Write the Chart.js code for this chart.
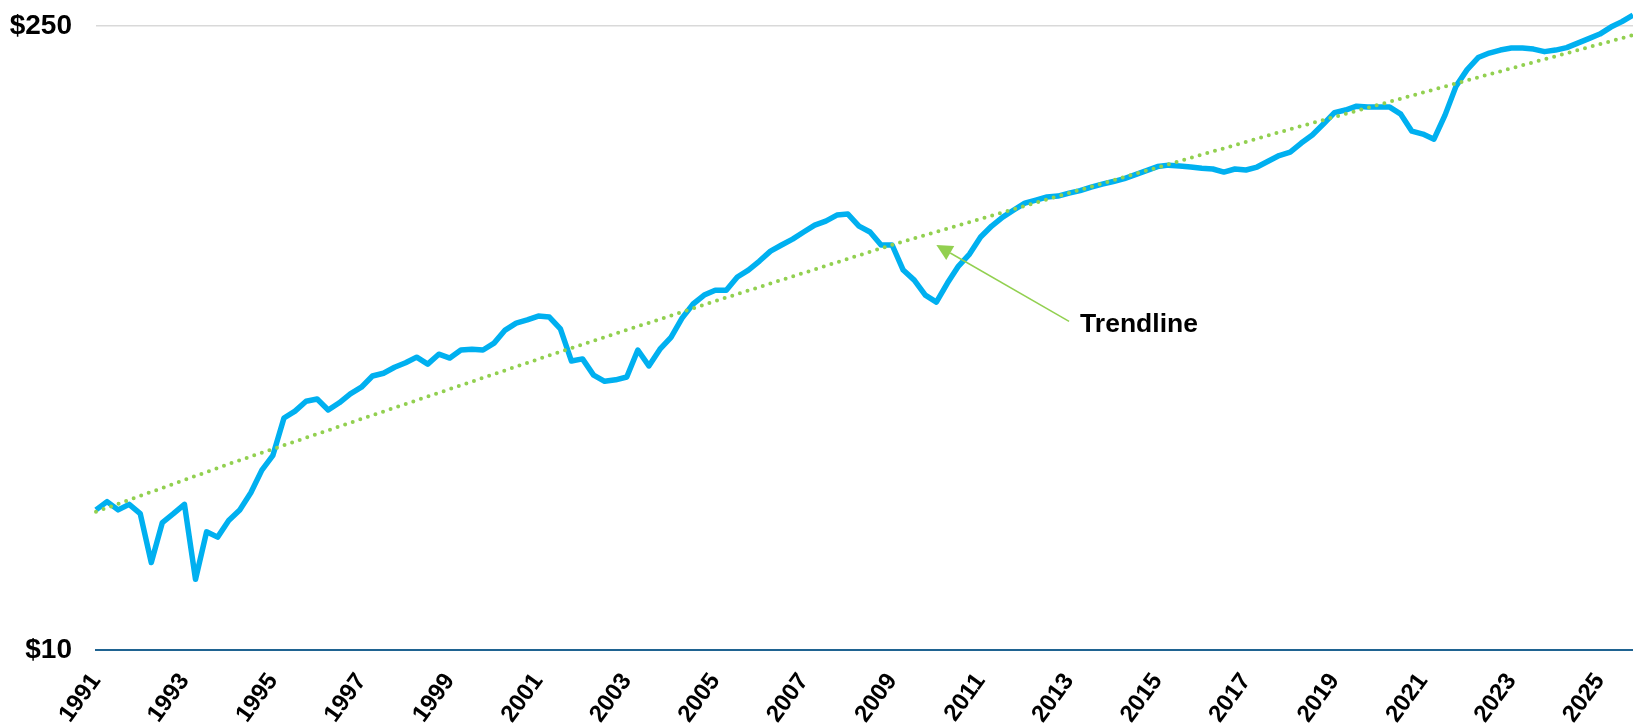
<!DOCTYPE html>
<html>
<head>
<meta charset="utf-8">
<title>Trendline</title>
<script src="https://cdn.jsdelivr.net/npm/chart.js@4.4.1/dist/chart.umd.min.js"></script>
<style>
    html, body { margin: 0; padding: 0; background: #fff; }
    #wrap { width: 1633px; height: 727px; position: relative; }
</style>
</head>
<body>
<div id="wrap"><canvas id="chartTrend"></canvas></div>
<script>
// Quarterly categories, 1991 Q1 .. 2025 Q4
const firstYear = 1991;
const lastYear = 2025;
const quarters = [];
for (let yr = firstYear; yr <= lastYear; yr++) {
    ['Q1', 'Q2', 'Q3', 'Q4'].forEach(q => quarters.push(yr + ' ' + q));
}

// Index level per quarter (one row per year)
const indexValues = [
    20.6, 21.5, 20.6, 21.2,
    20.2, 15.7, 19.3, 20.2,
    21.2, 14.4, 18.4, 17.9,
    19.5, 20.6, 22.5, 25.3,
    27.3, 33.1, 34.3, 36.1,
    36.5, 34.5, 35.8, 37.5,
    38.8, 41.1, 41.7, 43.0,
    44.0, 45.3, 43.7, 46.0,
    45.1, 47.0, 47.2, 47.0,
    48.7, 52.1, 54.0, 54.9,
    56.0, 55.7, 52.4, 44.4,
    44.9, 41.3, 40.0, 40.3,
    40.9, 47.0, 43.3, 47.2,
    50.2, 55.4, 59.6, 62.4,
    64.0, 64.0, 68.5, 71.0,
    74.4, 78.3, 80.8, 83.3,
    86.4, 89.5, 91.4, 94.3,
    94.8, 89.1, 86.4, 80.8,
    80.8, 71.0, 67.4, 62.4,
    60.2, 66.4, 72.5, 77.1,
    84.2, 89.1, 93.3, 96.8,
    100.3, 101.9, 103.5, 104.0,
    105.6, 107.0, 108.9, 110.6,
    112.1, 113.8, 116.2, 118.6,
    121.1, 122.0, 121.4, 120.8,
    120.0, 119.6, 117.7, 119.6,
    119.0, 120.8, 124.5, 128.2,
    130.5, 136.7, 142.5, 150.8,
    160.0, 162.1, 165.4, 164.6,
    164.6, 164.6, 158.7, 145.4,
    143.2, 139.5, 157.9, 183.4,
    199.7, 212.5, 217.5, 220.9,
    223.2, 223.2, 222.0, 219.1,
    220.9, 223.7, 228.9, 234.3,
    239.9, 248.7, 255.8, 264.6
];

// Trendline points
const trendQuarters = ['1991 Q1', '1994 Q1', '1997 Q4', '2001 Q3', '2005 Q1', '2009 Q1', '2013 Q3', '2018 Q1', '2021 Q4', '2025 Q4'];
const trendValues = [20.4, 26.1, 34.9, 46.6, 60.5, 80.9, 109.2, 146.9, 186.0, 238.6];

// Axis ticks
const tickYears = [1991, 1993, 1995, 1997, 1999, 2001, 2003, 2005, 2007, 2009, 2011, 2013, 2015, 2017, 2019, 2021, 2023, 2025];
const yTicks = [10, 250];

// Callout: arrow tip, arrow tail, text anchor  [quarter, value]
const noteTip = ['2010 Q1', 80.8];
const noteTail = ['2013 Q1', 54.5];
const noteText = ['2013 Q2', 53.7];

const green = '#92d050';
const blue = '#00b0f0';
const fontFamily = '"Liberation Sans", Arial, Helvetica, sans-serif';

Chart.defaults.font.family = fontFamily;
Chart.defaults.font.weight = 'bold';
Chart.defaults.color = '#000';

const arrowNote = {
    id: 'arrowNote',
    afterDatasetsDraw(chart) {
        const { ctx, scales: { x, y } } = chart;
        const tipX = x.getPixelForValue(quarters.indexOf(noteTip[0]));
        const tipY = y.getPixelForValue(noteTip[1]);
        const tailX = x.getPixelForValue(quarters.indexOf(noteTail[0]));
        const tailY = y.getPixelForValue(noteTail[1]);
        const dx = tipX - tailX;
        const dy = tipY - tailY;
        const len = Math.hypot(dx, dy);
        const ux = dx / len, uy = dy / len;
        const headLen = 16, headHalf = 8;
        const baseX = tipX - ux * headLen;
        const baseY = tipY - uy * headLen;

        ctx.save();
        ctx.strokeStyle = green;
        ctx.fillStyle = green;
        ctx.lineWidth = 1.5;
        ctx.beginPath();
        ctx.moveTo(tailX, tailY);
        ctx.lineTo(baseX, baseY);
        ctx.stroke();

        ctx.beginPath();
        ctx.moveTo(tipX, tipY);
        ctx.lineTo(baseX - uy * headHalf, baseY + ux * headHalf);
        ctx.lineTo(baseX + uy * headHalf, baseY - ux * headHalf);
        ctx.closePath();
        ctx.fill();

        ctx.fillStyle = '#000';
        ctx.font = 'bold 26.5px ' + fontFamily;
        ctx.textAlign = 'left';
        ctx.textBaseline = 'middle';
        ctx.fillText('Trendline',
            x.getPixelForValue(quarters.indexOf(noteText[0])),
            y.getPixelForValue(noteText[1]));
        ctx.restore();
    }
};

const ctx = document.getElementById('chartTrend').getContext('2d');

new Chart(ctx, {
    type: 'line',
    data: {
        labels: quarters,
        datasets: [{
            label: 'Trendline',
            data: trendQuarters.map((q, i) => ({ x: q, y: trendValues[i] })),
            borderColor: green,
            borderWidth: 4,
            borderDash: [0, 8],
            borderCapStyle: 'round',
            pointRadius: 0,
            fill: false,
            order: 0
        }, {
            label: 'Index',
            data: indexValues,
            borderColor: blue,
            borderWidth: 5.5,
            borderJoinStyle: 'round',
            tension: 0,
            pointRadius: 0,
            fill: false,
            order: 1
        }]
    },
    options: {
        responsive: true,
        maintainAspectRatio: false,
        animation: false,
        layout: { padding: 0 },
        plugins: {
            legend: { display: false },
            tooltip: { enabled: false }
        },
        scales: {
            x: {
                type: 'category',
                offset: false,
                grid: { display: false, drawTicks: false },
                border: { display: true, color: '#1f6391', width: 2 },
                afterFit: s => { s.height = 77; s.paddingLeft = 0; s.paddingRight = 0; },
                ticks: {
                    autoSkip: false,
                    minRotation: 54,
                    maxRotation: 54,
                    padding: 18,
                    font: { size: 24 },
                    callback(v) {
                        const lab = this.getLabelForValue(v);
                        const yr = +lab.slice(0, 4);
                        return lab.endsWith('Q1') && tickYears.includes(yr) ? String(yr) : null;
                    }
                }
            },
            y: {
                type: 'logarithmic',
                min: 10,
                max: 286,
                afterBuildTicks: s => { s.ticks = yTicks.map(v => ({ value: v })); },
                afterFit: s => { s.width = 96; s.paddingTop = 0; s.paddingBottom = 0; },
                grid: {
                    drawTicks: false,
                    lineWidth: 1.5,
                    color: c => (c.tick && c.tick.value === 250) ? '#d9d9d9' : 'rgba(0,0,0,0)'
                },
                border: { display: false },
                ticks: {
                    padding: 24,
                    font: { size: 28 },
                    callback: v => '$' + v
                }
            }
        }
    },
    plugins: [arrowNote]
});
</script>
</body>
</html>
